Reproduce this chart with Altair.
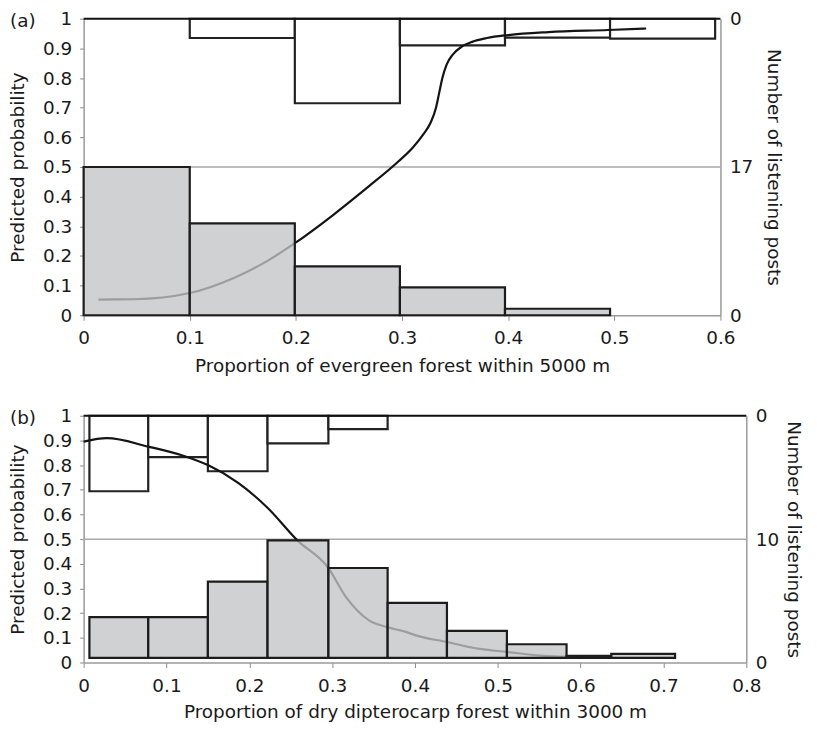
import altair as alt
import pandas as pd

FONT = "DejaVu Sans"
FS = 18.5

# ---------------- Panel (a) ----------------
A_EDGES = [0.0, 0.1, 0.199, 0.298, 0.397, 0.496, 0.595]
# grey histogram (absent), bar tops read on the left (probability) axis
A_ABSENT_TOP = [0.5, 0.31, 0.165, 0.094, 0.022]
# white histogram (present), hanging from 1, bar bottoms on the left axis (1 = no bar)
A_PRESENT_BOTTOM = [1.0, 0.935, 0.715, 0.91, 0.936, 0.933]
A_CURVE_X = [0.014, 0.047, 0.1, 0.141, 0.172, 0.199, 0.235, 0.266, 0.297, 0.31, 0.32,
             0.327, 0.332, 0.335, 0.338, 0.342, 0.348, 0.356, 0.366, 0.38, 0.4, 0.438,
             0.494, 0.53]
A_CURVE_P = [0.053, 0.054, 0.075, 0.125, 0.181, 0.243, 0.338, 0.427, 0.52, 0.565, 0.61,
             0.65, 0.70, 0.75, 0.80, 0.845, 0.88, 0.905, 0.922, 0.935, 0.945, 0.955,
             0.962, 0.967]
A_RIGHT_LABELS = ["0", "17", "0"]
A_XTICKS = [0, 0.1, 0.2, 0.3, 0.4, 0.5, 0.6]

# ---------------- Panel (b) ----------------
B_EDGES = [0.007, 0.078, 0.150, 0.222, 0.2955, 0.367, 0.4386, 0.511, 0.583, 0.637, 0.714]
B_ABSENT_TOP = [0.184, 0.184, 0.328, 0.495, 0.383, 0.242, 0.128, 0.074, 0.027, 0.035]
B_FLOOR = 0.019
B_PRESENT_BOTTOM = [0.694, 0.832, 0.775, 0.888, 0.946]
B_CURVE_X = [0.0, 0.028, 0.078, 0.123, 0.15, 0.187, 0.222, 0.258, 0.295, 0.317, 0.345,
             0.366, 0.389, 0.401, 0.439, 0.476, 0.511, 0.556, 0.583]
B_CURVE_P = [0.895, 0.909, 0.875, 0.835, 0.80, 0.727, 0.627, 0.495, 0.385, 0.264, 0.17,
             0.144, 0.124, 0.11, 0.083, 0.056, 0.043, 0.027, 0.023]
B_RIGHT_LABELS = ["0", "10", "0"]
B_XTICKS = [0, 0.1, 0.2, 0.3, 0.4, 0.5, 0.6, 0.7, 0.8]

Y_TICKS = [0, 0.1, 0.2, 0.3, 0.4, 0.5, 0.6, 0.7, 0.8, 0.9, 1.0]

COMMON = dict(labelFont=FONT, titleFont=FONT, labelFontSize=FS, titleFontSize=FS,
              labelColor="#1a1a1a", titleColor="#1a1a1a", titleFontWeight="normal",
              labelFlush=False, labelOverlap=False, grid=False,
              domainColor="#9a9a9a", domainWidth=1.5)


def panel(label, edges, absent_top, floor, present_bottom, cx, cp, xticks, xtitle,
          right_labels, w, h, xlabpad, xtitlepad, rtitlepad):
    n_abs = len(absent_top)
    n_pre = len(present_bottom)
    absent = pd.DataFrame({"x0": edges[:n_abs], "x1": edges[1:n_abs + 1],
                           "top": absent_top, "base": [floor] * n_abs})
    present = pd.DataFrame({"x0": edges[:n_pre], "x1": edges[1:n_pre + 1],
                            "bottom": present_bottom, "one": [1.0] * n_pre})
    present = present[present["bottom"] < 1.0].reset_index(drop=True)
    curve = pd.DataFrame({"x0": cx, "p": cp})

    def xs():
        return alt.Scale(domain=[0, xticks[-1]], nice=False, zero=False)

    def ys():
        return alt.Scale(domain=[0, 1], nice=False, zero=False)

    def xaxis():
        return alt.Axis(values=xticks, format="~g", title=xtitle,
                        tickSize=5, labelPadding=xlabpad, titlePadding=xtitlepad,
                        tickColor="#8a8a8a", **COMMON)

    laxis = alt.Axis(values=Y_TICKS, format="~g", title="Predicted probability",
                     orient="left", tickSize=4, labelPadding=8, titlePadding=15,
                     tickColor="#8a8a8a", **COMMON)
    expr = "datum.value < 0.25 ? '%s' : (datum.value < 0.75 ? '%s' : '%s')" % tuple(right_labels)
    raxis = alt.Axis(values=[0, 0.5, 1], labelExpr=expr, title="Number of listening posts",
                     orient="right", ticks=False, labelPadding=9,
                     titlePadding=rtitlepad, **COMMON)

    grid = alt.Chart(pd.DataFrame({"y": [0.5]})).mark_rule(
        color="#a9a9a9", strokeWidth=1.5).encode(y=alt.Y("y:Q", scale=ys(), axis=None))

    top_bars = alt.Chart(present).mark_rect(
        fill="white", stroke="#222222", strokeWidth=2.2).encode(
        x=alt.X("x0:Q", scale=xs(), axis=xaxis()), x2="x1:Q",
        y=alt.Y("bottom:Q", scale=ys(), axis=None), y2="one:Q")

    line = alt.Chart(curve).mark_line(
        color="#141414", strokeWidth=2.2, interpolate="monotone").encode(
        x=alt.X("x0:Q", scale=xs(), axis=xaxis()),
        y=alt.Y("p:Q", scale=ys(), axis=None))

    bottom_bars = alt.Chart(absent).mark_rect(
        fill="#c3c4c7", fillOpacity=0.78, stroke="#1c1c1c", strokeWidth=2.2).encode(
        x=alt.X("x0:Q", scale=xs(), axis=xaxis()), x2="x1:Q",
        y=alt.Y("top:Q", scale=ys(), axis=laxis), y2="base:Q")

    border = alt.Chart(pd.DataFrame({"y": [1.0]})).mark_rule(
        color="#111111", strokeWidth=2).encode(y=alt.Y("y:Q", scale=ys(), axis=raxis))

    tag = alt.Chart(pd.DataFrame({"t": [label]})).mark_text(
        align="left", baseline="middle", font=FONT, fontSize=FS, color="#1a1a1a").encode(
        text="t:N", x=alt.value(-74), y=alt.value(2))

    return alt.layer(grid, top_bars, line, bottom_bars, border, tag).resolve_scale(
        y="independent").properties(width=w, height=h)


pa = panel("(a)", A_EDGES, A_ABSENT_TOP, 0.0, A_PRESENT_BOTTOM, A_CURVE_X, A_CURVE_P,
           A_XTICKS, "Proportion of evergreen forest within 5000 m", A_RIGHT_LABELS,
           640, 298, 8, 10, 11)
pb = panel("(b)", B_EDGES, B_ABSENT_TOP, B_FLOOR, B_PRESENT_BOTTOM, B_CURVE_X, B_CURVE_P,
           B_XTICKS, "Proportion of dry dipterocarp forest within 3000 m", B_RIGHT_LABELS,
           666, 248, 9, 8, 5)

chart = alt.vconcat(pa, pb, spacing=32).properties(
    padding={"left": 0, "top": 0, "right": 6, "bottom": 0}).configure_view(stroke=None)

chart.save("out.html", embed_options={"renderer": "svg", "actions": False})
